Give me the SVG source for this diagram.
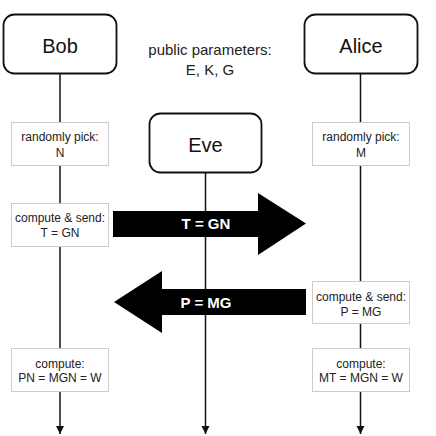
<svg xmlns="http://www.w3.org/2000/svg" width="436" height="436" viewBox="0 0 436 436">
<defs>
<style>
.actor{fill:#fff;stroke:#111;stroke-width:1.8}
.actor-t{font-family:"Liberation Sans",Arial,sans-serif;font-size:20px;fill:#111;text-anchor:middle}
.step{fill:#fff;stroke:#ccc;stroke-width:1}
.step-t{font-family:"Liberation Sans",Arial,sans-serif;font-size:12px;fill:#222;text-anchor:middle}
.life{stroke:#111;stroke-width:1.5;fill:none}
.big{fill:#000}
.big-t{font-family:"Liberation Sans",Arial,sans-serif;font-size:15px;font-weight:bold;fill:#fff;text-anchor:middle}
.note{font-family:"Liberation Sans",Arial,sans-serif;font-size:15px;fill:#222;text-anchor:middle}
</style>
<marker id="ah" viewBox="0 0 8 10" refX="8" refY="5" markerWidth="8" markerHeight="10" markerUnits="userSpaceOnUse" orient="auto">
<path d="M0,1 L8,5 L0,9 Z" fill="#111"/>
</marker>
</defs>
<rect width="436" height="436" fill="#fff"/>
<g id="connectors">
<line class="life" x1="60" y1="74" x2="60" y2="434" marker-end="url(#ah)"/>
<line class="life" x1="205.5" y1="173" x2="205.5" y2="434" marker-end="url(#ah)"/>
<line class="life" x1="360.5" y1="74" x2="360.5" y2="434" marker-end="url(#ah)"/>
</g>
<g id="bob"><rect class="actor" x="3.5" y="14.5" width="113" height="59" rx="11"/><text class="actor-t" x="60" y="53">Bob</text></g>
<g id="alice"><rect class="actor" x="304.5" y="14.5" width="113" height="59" rx="11"/><text class="actor-t" x="361" y="53">Alice</text></g>
<g id="eve"><rect class="actor" x="149.5" y="113.5" width="112" height="59" rx="11"/><text class="actor-t" x="205.5" y="152">Eve</text></g>
<g id="params"><text class="note" x="210" y="55">public parameters:</text><text class="note" x="210" y="75">E, K, G</text></g>
<g id="bob-pick"><rect class="step" x="11.5" y="122.5" width="97" height="43"/><text class="step-t" x="60" y="141">randomly pick:</text><text class="step-t" x="60" y="157">N</text></g>
<g id="bob-send"><rect class="step" x="11.5" y="203.5" width="97" height="43"/><text class="step-t" x="60" y="222">compute &amp; send:</text><text class="step-t" x="60" y="237">T = GN</text></g>
<g id="bob-compute"><rect class="step" x="11.5" y="348.5" width="97" height="43"/><text class="step-t" x="60" y="368">compute:</text><text class="step-t" x="60" y="382">PN = MGN = W</text></g>
<g id="alice-pick"><rect class="step" x="312.5" y="122.5" width="97" height="43"/><text class="step-t" x="361" y="141">randomly pick:</text><text class="step-t" x="361" y="157">M</text></g>
<g id="alice-send"><rect class="step" x="312.5" y="281.5" width="97" height="42"/><text class="step-t" x="361" y="301">compute &amp; send:</text><text class="step-t" x="361" y="316">P = MG</text></g>
<g id="alice-compute"><rect class="step" x="312.5" y="348.5" width="97" height="43"/><text class="step-t" x="361" y="368">compute:</text><text class="step-t" x="361" y="382">MT = MGN = W</text></g>
<g id="msg-t"><path class="big" d="M113,211 L258,211 L258,193 L306,223.5 L258,255 L258,237 L113,237 Z"/><text class="big-t" x="206" y="229">T = GN</text></g>
<g id="msg-p"><path class="big" d="M306,289 L162,289 L162,271 L114,302 L162,333 L162,315 L306,315 Z"/><text class="big-t" x="206" y="308">P = MG</text></g>
</svg>
